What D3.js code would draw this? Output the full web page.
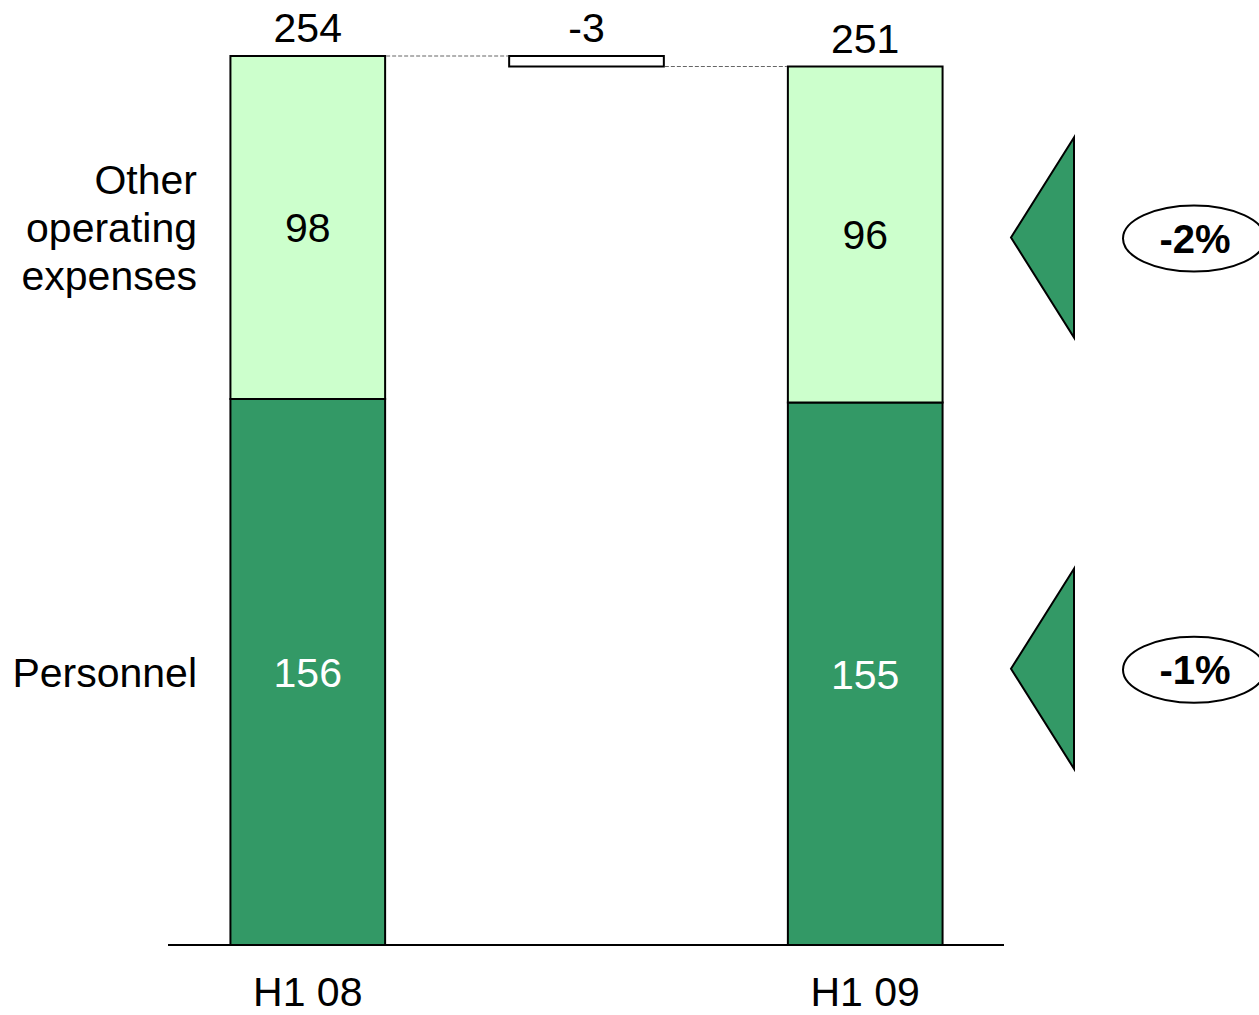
<!DOCTYPE html>
<html>
<head>
<meta charset="utf-8">
<script src="https://cdn.jsdelivr.net/npm/d3@7"></script>
<style>
  html, body { margin: 0; padding: 0; background: #fff; }
  svg { display: block; font-family: "Liberation Sans", Arial, sans-serif; }
</style>
</head>
<body>
<svg id="chart" width="1259" height="1015"></svg>
<script>
// Operating expenses bridge, H1 08 -> H1 09
const periods = ["H1 08", "H1 09"];
const segments = ["Personnel", "Other operating expenses"];
const personnel = [156, 155];
const otherOpex = [98, 96];
const totals = [254, 251];
const delta = -3;
const changes = ["-1%", "-2%"]; // Personnel, Other operating expenses
const segmentLabels = [["Personnel"], ["Other", "operating", "expenses"]];

const darkGreen = "#339966";
const lightGreen = "#CCFFCC";
const fs = 41;

const svg = d3.select("#chart");
const baseline = 945;

const x = d3.scaleBand()
  .domain([periods[0], "delta", periods[1]])
  .range([168, 1005])
  .paddingInner(0.445)
  .paddingOuter(0.224);

const y = d3.scaleLinear().domain([0, 254]).range([baseline, 56]);

const bw = x.bandwidth();

// stacked columns
periods.forEach((p, i) => {
  const stack = [
    { v0: 0, v1: personnel[i], fill: darkGreen, text: "#fff", val: personnel[i] },
    { v0: personnel[i], v1: personnel[i] + otherOpex[i], fill: lightGreen, text: "#000", val: otherOpex[i] }
  ];
  stack.forEach(s => {
    svg.append("rect")
      .attr("x", x(p)).attr("y", y(s.v1))
      .attr("width", bw).attr("height", y(s.v0) - y(s.v1))
      .attr("fill", s.fill).attr("stroke", "#000").attr("stroke-width", 2);
    svg.append("text")
      .attr("x", x(p) + bw / 2).attr("y", (y(s.v0) + y(s.v1)) / 2)
      .attr("dy", "0.36em").attr("text-anchor", "middle")
      .attr("font-size", fs).attr("fill", s.text)
      .text(s.val);
  });
  svg.append("text")
    .attr("x", x(p) + bw / 2).attr("y", y(totals[i]) - 14)
    .attr("text-anchor", "middle").attr("font-size", fs)
    .text(totals[i]);
  svg.append("text")
    .attr("x", x(p) + bw / 2).attr("y", 1006)
    .attr("text-anchor", "middle").attr("font-size", fs)
    .text(p);
});

// floating delta bar
svg.append("rect")
  .attr("x", x("delta")).attr("y", y(totals[0]))
  .attr("width", bw).attr("height", y(totals[0] + delta) - y(totals[0]))
  .attr("fill", "#fff").attr("stroke", "#000").attr("stroke-width", 2);
svg.append("text")
  .attr("x", x("delta") + bw / 2).attr("y", y(totals[0]) - 14)
  .attr("text-anchor", "middle").attr("font-size", fs)
  .text(delta);

// dashed connectors
const conn = [
  { x1: x(periods[0]) + bw, x2: x("delta"), v: totals[0] },
  { x1: x("delta") + bw, x2: x(periods[1]), v: totals[1] }
];
conn.forEach(c => {
  svg.append("line")
    .attr("x1", c.x1 + 1).attr("x2", c.x2 - 1)
    .attr("y1", y(c.v)).attr("y2", y(c.v))
    .attr("stroke", "#666").attr("stroke-width", 1.2)
    .attr("stroke-dasharray", "4,2");
});

// baseline
svg.append("line")
  .attr("x1", 168).attr("x2", 1004)
  .attr("y1", baseline).attr("y2", baseline)
  .attr("stroke", "#000").attr("stroke-width", 2);

// segment names on the left
const segMid = [
  (y(0) + y(personnel[0])) / 2,
  (y(personnel[0]) + y(totals[0])) / 2
];
segmentLabels.forEach((lines, k) => {
  const t = svg.append("text")
    .attr("text-anchor", "end").attr("font-size", fs);
  const lh = 48;
  const start = segMid[k] - (lines.length - 1) * lh / 2;
  lines.forEach((ln, j) => {
    t.append("tspan").attr("x", 197).attr("y", start + j * lh).attr("dy", "0.36em").text(ln);
  });
});

// change markers: triangle + ellipse with percentage
const segMid2 = [
  (y(0) + y(personnel[1])) / 2,
  (y(personnel[1]) + y(totals[1])) / 2
];
const markerShift = [-5, 3];
changes.forEach((c, k) => {
  const cy = segMid2[k] + markerShift[k];
  svg.append("path")
    .attr("d", `M1074,${cy - 100} L1011,${cy} L1074,${cy + 100} Z`)
    .attr("fill", darkGreen).attr("stroke", "#000").attr("stroke-width", 2)
    .attr("stroke-linejoin", "miter");
  svg.append("ellipse")
    .attr("cx", 1194).attr("cy", cy + 1)
    .attr("rx", 71).attr("ry", 33)
    .attr("fill", "#fff").attr("stroke", "#000").attr("stroke-width", 2);
  svg.append("text")
    .attr("x", 1195).attr("y", cy + 1).attr("dy", "0.36em")
    .attr("text-anchor", "middle").attr("font-size", 40).attr("font-weight", "bold")
    .text(c);
});
</script>
</body>
</html>
